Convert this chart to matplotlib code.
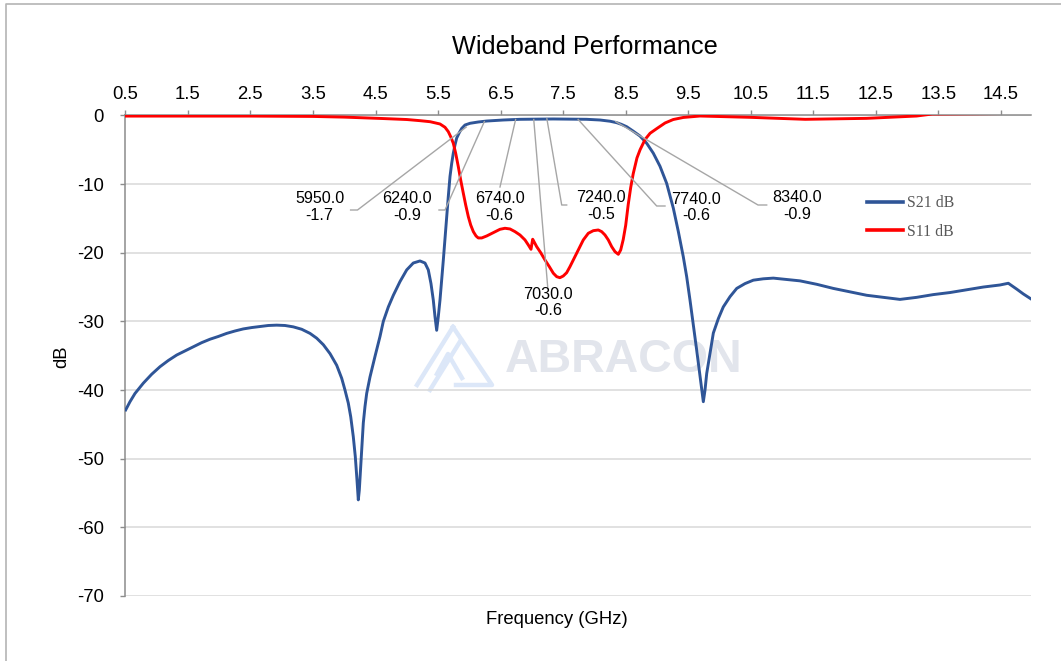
import matplotlib
matplotlib.use('Agg')
import matplotlib.pyplot as plt
from matplotlib.lines import Line2D

# S21 (transmission)
s21_ghz = [0.506, 0.575, 0.655, 0.788, 0.922, 1.055, 1.187, 1.322, 1.454, 1.587, 1.721, 1.854,
           1.987, 2.121, 2.254, 2.386, 2.521, 2.654, 2.786, 2.920, 3.053, 3.186, 3.320, 3.453,
           3.560, 3.666, 3.773, 3.880, 3.960, 4.012, 4.065, 4.104, 4.145, 4.177, 4.204, 4.225,
           4.241, 4.263, 4.284, 4.305, 4.332, 4.359, 4.412, 4.492, 4.572, 4.625, 4.705, 4.785,
           4.892, 4.999, 5.104, 5.211, 5.291, 5.344, 5.387, 5.424, 5.451, 5.478, 5.504, 5.531,
           5.558, 5.584, 5.611, 5.638, 5.664, 5.691, 5.718, 5.744, 5.771, 5.798, 5.840, 5.878,
           5.931, 6.011, 6.143, 6.278, 6.543, 6.810, 7.343, 7.877, 8.089, 8.250, 8.356, 8.430,
           8.516, 8.621, 8.728, 8.836, 8.941, 9.048, 9.155, 9.261, 9.341, 9.421, 9.475, 9.528,
           9.581, 9.635, 9.688, 9.715, 9.741, 9.768, 9.795, 9.848, 9.901, 9.981, 10.060, 10.168,
           10.275, 10.407, 10.540, 10.700, 10.860, 11.074, 11.287, 11.554, 11.819, 12.086, 12.353, 12.618,
           12.885, 13.152, 13.418, 13.685, 13.952, 14.217, 14.484, 14.617, 14.751, 14.856, 14.991]
s21_db = [-42.9, -41.7, -40.5, -39.0, -37.7, -36.6, -35.7, -34.9, -34.3, -33.7, -33.1, -32.6,
          -32.2, -31.75, -31.4, -31.1, -30.9, -30.75, -30.6, -30.55, -30.6, -30.8, -31.15, -31.75,
          -32.45, -33.4, -34.7, -36.4, -38.3, -40.0, -41.9, -43.9, -46.8, -49.7, -53.1, -56.0,
          -54.6, -51.2, -47.8, -44.8, -42.4, -40.5, -38.1, -35.1, -32.2, -30.0, -27.9, -26.2,
          -24.2, -22.5, -21.5, -21.2, -21.5, -22.5, -24.5, -26.9, -29.3, -31.3, -29.3, -26.9,
          -24.0, -21.1, -17.9, -14.8, -11.8, -8.9, -7.0, -5.5, -4.3, -3.3, -2.5, -1.9,
          -1.4, -1.15, -0.96, -0.82, -0.67, -0.57, -0.52, -0.57, -0.67, -0.85, -1.06, -1.3,
          -1.65, -2.3, -3.0, -4.06, -5.5, -7.4, -9.9, -13.5, -16.9, -20.6, -23.5, -26.9,
          -30.5, -34.2, -38.0, -40.0, -41.7, -40.0, -37.6, -34.6, -31.7, -29.6, -27.9, -26.4,
          -25.2, -24.5, -24.0, -23.8, -23.7, -23.9, -24.1, -24.6, -25.2, -25.7, -26.2, -26.5,
          -26.8, -26.5, -26.1, -25.8, -25.4, -25.0, -24.7, -24.45, -25.3, -26.0, -26.8]

# S11 (return loss)
s11_ghz = [0.50, 1.50, 2.50, 3.50, 4.00, 4.60, 5.00, 5.214, 5.374, 5.531, 5.611, 5.664,
           5.702, 5.744, 5.782, 5.824, 5.862, 5.904, 5.942, 5.984, 6.022, 6.064, 6.107, 6.143,
           6.198, 6.278, 6.383, 6.490, 6.570, 6.650, 6.730, 6.810, 6.890, 6.943, 6.986, 7.013,
           7.034, 7.077, 7.141, 7.210, 7.279, 7.343, 7.397, 7.448, 7.502, 7.556, 7.609, 7.662,
           7.742, 7.822, 7.902, 7.982, 8.062, 8.116, 8.169, 8.222, 8.276, 8.329, 8.382, 8.420,
           8.460, 8.500, 8.540, 8.580, 8.620, 8.680, 8.730, 8.810, 8.890, 9.000, 9.130, 9.260,
           9.420, 9.688, 10.49, 11.37, 12.35, 13.15, 13.40, 14.99]
s11_db = [-0.1, -0.1, -0.1, -0.15, -0.25, -0.45, -0.6, -0.77, -0.92, -1.25, -1.73, -2.37,
          -3.1, -4.06, -5.52, -7.47, -9.41, -11.34, -13.05, -14.75, -15.96, -16.93, -17.56, -17.85,
          -17.85, -17.56, -17.08, -16.59, -16.44, -16.54, -16.93, -17.42, -18.14, -18.87, -19.5, -18.04,
          -18.39, -19.12, -19.99, -21.06, -22.03, -22.99, -23.49, -23.64, -23.39, -22.91, -22.03, -21.06,
          -19.6, -18.14, -17.17, -16.79, -16.69, -16.93, -17.42, -18.14, -19.12, -19.85, -20.23, -19.6,
          -18.1, -16.0, -13.0, -10.5, -8.5, -6.2, -5.0, -3.5, -2.6, -1.9, -1.1, -0.6,
          -0.3, -0.09, -0.28, -0.57, -0.43, -0.09, 0.2, 0.3]

# marker readouts (MHz, dB)
mark_mhz = [5950.0, 6240.0, 6740.0, 7030.0, 7240.0, 7740.0, 8340.0]
mark_db = [-1.7, -0.9, -0.6, -0.6, -0.5, -0.6, -0.9]

x_ticks = [0.5 + i for i in range(15)]
y_ticks = [0, -10, -20, -30, -40, -50, -60, -70]

plt.rcParams['axes.unicode_minus'] = False
W, H = 1061, 661
fig = plt.figure(figsize=(W / 100, H / 100), dpi=100)
plt.rcParams['font.family'] = ['Liberation Sans', 'DejaVu Sans']

# plot area in pixels: x 125.3..1031, y 115.4..596
L, R, T, B = 125.3, 1031.0, 115.4, 596.0
ax = fig.add_axes([L / W, 1 - B / H, (R - L) / W, (B - T) / H])
ax.patch.set_visible(False)
xmin, xmax = 0.5, 0.5 + (R - L) / 62.55
ax.set_xlim(xmin, xmax)
ax.set_ylim(-70, 0)


def px2x(px):
    return xmin + (px - L) / 62.55


def px2y(py):
    return -(py - T) / (B - T) * 70


grid_c = '#d9d9d9'
axis_c = '#8c8c8c'
ax.set_yticks(y_ticks)
ax.set_xticks(x_ticks)
ax.set_xticklabels([f'{v:.1f}' for v in x_ticks])
ax.grid(axis='y', color=grid_c, linewidth=1.1)
ax.set_axisbelow(True)
ax.xaxis.tick_top()
for s in ['right', 'bottom']:
    ax.spines[s].set_visible(False)
for s in ['top', 'left']:
    ax.spines[s].set_color(axis_c)
    ax.spines[s].set_linewidth(1.1)
ax.tick_params(axis='x', direction='out', length=3.6, width=1, color=axis_c,
               labelsize=13.3, pad=5.5, labelcolor='black')
ax.tick_params(axis='y', direction='out', length=3.6, width=1, color=axis_c,
               labelsize=13.3, pad=12, labelcolor='black')

# watermark (behind the transparent axes)
fig.text(505 / W, 1 - 372 / H, 'ABRACON', fontsize=33.5, fontweight='bold',
         color='#e2e5ec', ha='left', va='baseline', zorder=-1)
logo_c = '#dce7f8'
for seg in [[(453, 327), (417, 385)], [(453, 327), (492, 385), (456, 385)],
            [(461, 340), (430, 390)], [(437, 374), (448, 354), (462, 378)]]:
    fig.add_artist(Line2D([p[0] / W for p in seg], [1 - p[1] / H for p in seg],
                          color=logo_c, linewidth=3.2, zorder=-1))

ax.plot(s21_ghz, s21_db, color='#2f5597', linewidth=2.1, label='S21 dB', zorder=3)
ax.plot(s11_ghz, s11_db, color='#ff0000', linewidth=2.1, label='S11 dB', zorder=4)

# data labels with leader lines (label centre and leader elbows in pixels)
label_pos = [(319.6, 207), (407, 207), (499.5, 207), (548, 302.5), (601, 206), (696, 207.5), (797, 206)]
leaders = [[(357.5, 210), (350.6, 210)], [(445, 210), (439, 210)], [(500, 187)], [(547.7, 287)],
           [(561.7, 205), (566.7, 205)], [(656.7, 206), (665, 206)], [(758, 205), (766.7, 205)]]
for f, v, (tx, ty), elb in zip(mark_mhz, mark_db, label_pos, leaders):
    xs = [f / 1000] + [px2x(p[0]) for p in elb]
    ys = [v] + [px2y(p[1]) for p in elb]
    ax.plot(xs, ys, color='#a6a6a6', linewidth=1, zorder=5)
    ax.text(px2x(tx), px2y(ty), f'{f:.1f}\n{v:.1f}', ha='center', va='center',
            multialignment='center', fontsize=11.6, linespacing=1.1, zorder=6)

leg = ax.legend(loc='upper left', bbox_to_anchor=(866.7 / W, 1 - 195 / H),
                bbox_transform=fig.transFigure, frameon=False, borderpad=0, borderaxespad=0,
                handlelength=2.3, handletextpad=0.25, labelspacing=0.8,
                prop={'family': 'Liberation Serif', 'size': 11.3})
for t in leg.get_texts():
    t.set_color('#595959')
for h in leg.get_lines():
    h.set_linewidth(2.6)

fig.text(585 / W, 1 - 47 / H, 'Wideband Performance', fontsize=18.2, ha='center', va='center')
fig.text(557 / W, 1 - 620 / H, 'Frequency (GHz)', fontsize=13.3, ha='center', va='center')
fig.text(62 / W, 1 - 357 / H, 'dB', fontsize=13.3, rotation=90, ha='center', va='center')

# chart frame (left and top edges visible)
fig.add_artist(Line2D([6 / W, 6 / W, 1], [0, 1 - 4 / H, 1 - 4 / H], color='#b4b4b4', linewidth=1.2))

plt.savefig('out.png', dpi=100, facecolor='white')
